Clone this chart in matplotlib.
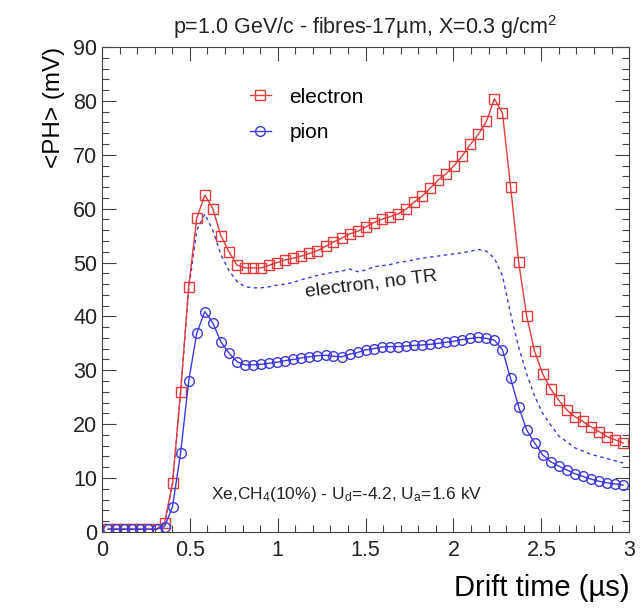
import matplotlib
matplotlib.use("Agg")
import matplotlib.pyplot as plt
from matplotlib.ticker import MultipleLocator

plt.rcParams['font.family'] = ['Liberation Sans', 'DejaVu Sans']
plt.rcParams['mathtext.fontset'] = 'custom'
plt.rcParams['mathtext.rm'] = 'Liberation Sans'
plt.rcParams['mathtext.default'] = 'regular'

# drift time bins (us)
drift_time = [0.035, 0.081, 0.127, 0.172, 0.218, 0.264, 0.310, 0.356, 0.401, 0.447,
              0.493, 0.539, 0.585, 0.630, 0.676, 0.722, 0.768, 0.814, 0.859, 0.905,
              0.951, 0.997, 1.043, 1.088, 1.134, 1.180, 1.226, 1.272, 1.317, 1.363,
              1.409, 1.455, 1.501, 1.546, 1.592, 1.638, 1.684, 1.730, 1.775, 1.821,
              1.867, 1.913, 1.959, 2.004, 2.050, 2.096, 2.142, 2.188, 2.233, 2.279,
              2.325, 2.371, 2.417, 2.462, 2.508, 2.554, 2.600, 2.646, 2.691, 2.737,
              2.783, 2.829, 2.875, 2.920, 2.966]

# average pulse height (mV)
electron = [0.5, 0.5, 0.5, 0.5, 0.5, 0.5, 0.5, 1.7, 9.1, 26.0,
            45.5, 58.3, 62.5, 60.0, 55.0, 52.0, 49.5, 49.0, 49.0, 49.0,
            49.5, 50.0, 50.5, 50.8, 51.2, 51.7, 52.2, 53.0, 53.8, 54.5,
            55.3, 55.8, 56.6, 57.4, 58.0, 58.5, 59.0, 59.9, 61.2, 62.3,
            63.8, 65.3, 66.5, 68.0, 69.8, 71.9, 73.8, 76.2, 80.4, 77.7,
            64.1, 50.1, 40.0, 33.5, 29.3, 26.5, 24.4, 22.6, 21.4, 20.5,
            19.5, 18.6, 17.7, 17.1, 16.5]

pion = [0.5, 0.5, 0.5, 0.5, 0.5, 0.5, 0.5, 1.0, 4.7, 14.7,
        28.0, 36.9, 40.9, 38.8, 35.3, 33.2, 31.6, 31.0, 31.0, 31.1,
        31.3, 31.5, 31.8, 32.0, 32.3, 32.5, 32.7, 32.8, 32.6, 32.5,
        33.0, 33.3, 33.8, 34.0, 34.3, 34.4, 34.4, 34.5, 34.6, 34.7,
        34.8, 35.0, 35.2, 35.4, 35.7, 35.9, 36.1, 35.9, 35.6, 33.8,
        28.5, 23.2, 18.9, 16.5, 14.3, 13.0, 12.2, 11.5, 10.8, 10.3,
        9.8, 9.4, 9.1, 8.9, 8.7]

electron_no_tr = [0.5, 0.5, 0.5, 0.5, 0.5, 0.5, 0.5, 1.5, 9.0, 26.0,
                  45.0, 56.0, 59.0, 56.0, 51.5, 48.5, 46.5, 45.5, 45.3, 45.3,
                  45.5, 45.8, 46.0, 46.3, 46.8, 47.2, 47.6, 47.9, 48.2, 48.4,
                  48.8, 48.3, 48.6, 49.2, 49.4, 49.6, 50.0, 50.2, 50.5, 50.8,
                  51.0, 51.2, 51.4, 51.6, 51.8, 52.1, 52.4, 52.1, 50.8, 47.5,
                  40.5, 34.3, 29.3, 25.2, 22.0, 19.8, 17.8, 16.7, 15.6, 15.0,
                  14.4, 14.0, 13.6, 13.2, 12.8]

red = '#e23c3c'
blue = '#3a3ade'
frame = '#444444'

fig = plt.figure(figsize=(6.42, 6.10), dpi=100)
ax = fig.add_axes([0.159, 0.128, 0.821, 0.795])

ax.plot(drift_time, electron_no_tr, ls=(0, (2.5, 2.5)), color=blue, lw=1.0)
ax.plot(drift_time, electron, color=red, lw=1.0, marker='s', ms=7.5,
        mfc='none', mec=red, mew=1.0, label='electron')
ax.plot(drift_time, pion, color=blue, lw=1.0, marker='o', ms=7,
        mfc='none', mec=blue, mew=1.0, label='pion')

ax.set_xlim(0, 3)
ax.set_ylim(0, 90)
ax.xaxis.set_major_locator(MultipleLocator(0.5))
ax.xaxis.set_minor_locator(MultipleLocator(0.1))
ax.yaxis.set_major_locator(MultipleLocator(10))
ax.yaxis.set_minor_locator(MultipleLocator(2))
ax.tick_params(which='both', direction='in', top=True, right=True,
               labelsize=15.5, color=frame, labelcolor='#222222')
ax.tick_params(which='major', length=10, width=0.8)
ax.tick_params(which='minor', length=5, width=0.8)
ax.tick_params(axis='x', pad=6)
ax.xaxis.set_major_formatter(plt.FuncFormatter(lambda v, p: f'{v:g}'))
for s in ax.spines.values():
    s.set_color(frame)

ax.set_ylabel('<PH> (mV)', fontsize=17.5, loc='top', labelpad=6)
ax.set_xlabel('Drift time (µs)', fontsize=21, loc='right', labelpad=9)
ax.set_title('p=1.0 GeV/c - fibres-17µm, X=0.3 g/cm$^2$', fontsize=15.5,
             pad=9, color='#222222')

ax.legend(loc='upper left', bbox_to_anchor=(0.245, 0.955), frameon=False,
          fontsize=15, handlelength=1.0, handletextpad=0.9, labelspacing=0.8)

ax.text(1.53, 46.0, 'electron, no TR', fontsize=14, rotation=7,
        ha='center', va='center', color='#222222')
ax.text(1.39, 6.9, 'Xe,CH$_4$(10%) - U$_d$=-4.2, U$_a$=1.6 kV', fontsize=12.5,
        ha='center', va='center', color='#222222')

fig.savefig('out.png', dpi=100)
